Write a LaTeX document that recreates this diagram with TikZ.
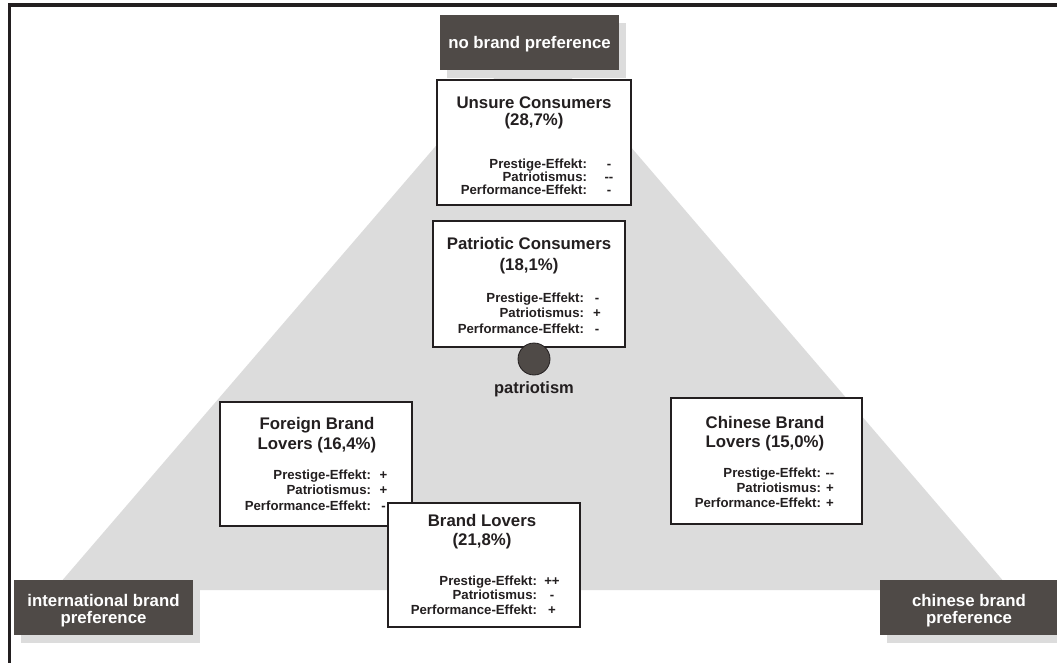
\documentclass[tikz,border=0pt]{standalone}
\usepackage{fontspec}
\setmainfont{Liberation Sans}
\usetikzlibrary{shadows}
\definecolor{darkfill}{HTML}{4F4A47}
\definecolor{lightgrey}{HTML}{DCDCDC}
\definecolor{inkc}{HTML}{231F20}
\setlength{\tabcolsep}{0pt}
\newcommand\twominus{\hbox{-}\hbox{-}}
% #1 row skip, #2 gap, #3-#5 values
\newcommand\statblock[5]{{\fontsize{13.2}{#1}\selectfont\bfseries
  \begin{tabular}[t]{@{}r@{\hspace{#2}}c@{}}
  Prestige-Effekt: & \makebox[12pt]{#3}\\
  Patriotismus: & \makebox[12pt]{#4}\\
  Performance-Effekt: & \makebox[12pt]{#5}
  \end{tabular}}}
% #1 row skip, #2 line1, #3 line2
\newcommand\ttlblock[3]{{\fontsize{16.8}{#1}\selectfont\bfseries
  \begin{tabular}[t]{@{}c@{}}#2\\#3\end{tabular}}}
\begin{document}
\begin{tikzpicture}[x=1pt,y=-1pt,
  every node/.style={inner sep=0pt,outer sep=0pt,text=inkc},
  cbox/.style={draw=inkc,line width=2pt,fill=white},
  lbox/.style={fill=darkfill,minimum width=179pt,minimum height=55pt,
     drop shadow={shadow xshift=7pt,shadow yshift=-8pt,fill=lightgrey,opacity=1}},
  txt/.style={anchor=base},
  wtxt/.style={anchor=base,text=white},
  stat/.style={anchor=base east}]

\useasboundingbox (0,0) rectangle (1057,663);
\clip (0,0) rectangle (1057,663);
\fill[white] (0,0) rectangle (1057,663);
\fill[lightgrey] (533,33) -- (54,590) -- (1011,590) -- cycle;
\draw[inkc,line width=3.5pt] (9.5,663) -- (9.5,5) -- (1057,5);

% corner labels
\node[lbox] (nb) at (529.5,42.5) {};
\node[wtxt] (nbt) at (529.5,48.5) {\fontsize{16.8}{17}\selectfont\bfseries no brand preference};
\node[lbox] (intl) at (103.5,607.5) {};
\node[wtxt] (intlt) at (103.5,606.5) {\ttlblock{15.5}{international brand}{preference}};
\node[lbox] (chn) at (969,607.5) {};
\node[wtxt] (chnt) at (969,606.5) {\ttlblock{15.5}{chinese brand}{preference}};

% Unsure
\node[cbox,minimum width=194pt,minimum height=125pt] (unsure) at (534,142.5) {};
\node[txt] (unsuret) at (534,108.5) {\ttlblock{16.5}{Unsure Consumers}{(28,7\%)}};
\node[stat] (unsures) at (615,169) {\statblock{11}{16pt}{-}{\twominus}{-}};

% Patriotic
\node[cbox,minimum width=192pt,minimum height=126pt] (patr) at (529,284) {};
\node[txt] (patrt) at (529,249.5) {\ttlblock{21}{Patriotic Consumers}{(18,1\%)}};
\node[stat] (patrs) at (603,302) {\statblock{15.5}{7pt}{-}{+}{-}};
\node[circle,fill=darkfill,draw=inkc,line width=0.8pt,minimum size=32pt] (pdot) at (534,359) {};
\node[txt] (pdott) at (534,393) {\fontsize{16.5}{17}\selectfont\bfseries patriotism};

% Foreign
\node[cbox,minimum width=192pt,minimum height=124pt] (foreign) at (316,464) {};
\node[txt] (foreignt) at (317,429) {\ttlblock{20}{Foreign Brand}{Lovers (16,4\%)}};
\node[stat] (foreigns) at (389.5,479) {\statblock{15.5}{6.5pt}{+}{+}{-}};

% Brand Lovers
\node[cbox,minimum width=192pt,minimum height=124pt] (brand) at (484,565) {};
\node[txt] (brandt) at (482,526) {\ttlblock{19.5}{Brand Lovers}{(21,8\%)}};
\node[stat] (brands) at (558,585) {\statblock{14.5}{9pt}{++}{-}{+}};

% Chinese
\node[cbox,minimum width=191pt,minimum height=126pt] (chinese) at (766.5,461) {};
\node[txt] (chineset) at (765,428) {\ttlblock{19}{Chinese Brand}{Lovers (15,0\%)}};
\node[stat] (chineses) at (836,477) {\statblock{15}{3pt}{\twominus}{+}{+}};
\end{tikzpicture}
\end{document}
